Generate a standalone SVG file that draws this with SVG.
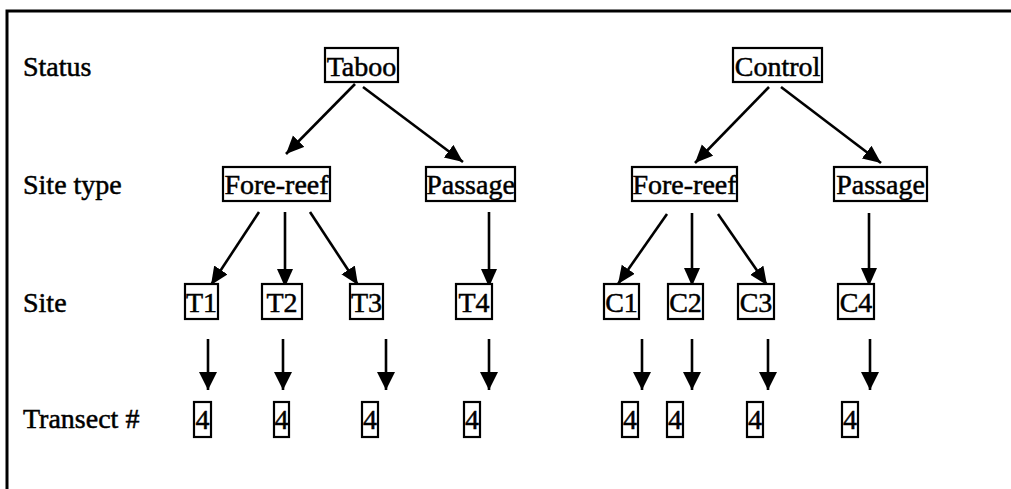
<svg xmlns="http://www.w3.org/2000/svg" width="1011" height="489" viewBox="0 0 1011 489">
<style>
text{font-family:"Liberation Serif","Times New Roman",serif;font-size:28px;fill:#000;stroke:#000;stroke-width:0.5}
.lbl{text-anchor:start}
.n text{text-anchor:middle}
.n rect{fill:#fff;stroke:#000;stroke-width:2.2}
.c line{stroke:#000;stroke-width:2.6}
.a{marker-end:url(#ah)}
.b{marker-end:url(#ahb)}
</style>
<defs>
<marker id="ah" markerUnits="userSpaceOnUse" markerWidth="19" markerHeight="17" refX="18" refY="8" orient="auto"><path d="M0,0 L18,8 L0,16 z" fill="#000"/></marker>
<marker id="ahb" markerUnits="userSpaceOnUse" markerWidth="19" markerHeight="20" refX="18" refY="9" orient="auto"><path d="M0,0 L18,9 L0,18 z" fill="#000"/></marker>
</defs>
<rect width="1011" height="489" fill="#fff"/>
<path d="M7,489 V11 H1011" fill="none" stroke="#000" stroke-width="3"/>
<g id="labels">
<text class="lbl" x="23" y="76">Status</text>
<text class="lbl" x="23" y="194">Site type</text>
<text class="lbl" x="23" y="312">Site</text>
<text class="lbl" x="23" y="428">Transect #</text>
</g>
<g id="connectors" class="c">
<line class="a" x1="355" y1="84" x2="286" y2="154"/>
<line class="a" x1="363" y1="87" x2="463" y2="162"/>
<line class="a" x1="769" y1="87" x2="695" y2="163"/>
<line class="a" x1="781" y1="87" x2="881" y2="163"/>
<line class="a" x1="259" y1="212" x2="211" y2="285"/>
<line class="a" x1="285" y1="212" x2="285" y2="287"/>
<line class="a" x1="310" y1="212" x2="358" y2="285"/>
<line class="a" x1="489" y1="212" x2="489" y2="287"/>
<line class="a" x1="667" y1="214" x2="618" y2="284"/>
<line class="a" x1="692" y1="213" x2="692" y2="286"/>
<line class="a" x1="718" y1="214" x2="767" y2="285"/>
<line class="a" x1="869" y1="213" x2="869" y2="286"/>
<line class="b" x1="208" y1="339" x2="208" y2="390"/>
<line class="b" x1="283" y1="339" x2="283" y2="390"/>
<line class="b" x1="386" y1="339" x2="386" y2="390"/>
<line class="b" x1="489" y1="339" x2="489" y2="390"/>
<line class="b" x1="642" y1="339" x2="642" y2="390"/>
<line class="b" x1="692" y1="339" x2="692" y2="390"/>
<line class="b" x1="768" y1="339" x2="768" y2="390"/>
<line class="b" x1="870" y1="339" x2="870" y2="390"/>
</g>
<g id="taboo" class="n"><rect x="325" y="48" width="73" height="34"/><text x="361.5" y="76">Taboo</text></g>
<g id="control" class="n"><rect x="733" y="48" width="89" height="34"/><text x="777.5" y="76">Control</text></g>
<g id="t-forereef" class="n"><rect x="223" y="167" width="107" height="34"/><text x="276.5" y="194">Fore-reef</text></g>
<g id="t-passage" class="n"><rect x="426" y="167" width="89" height="34"/><text x="470.5" y="194">Passage</text></g>
<g id="c-forereef" class="n"><rect x="632" y="167" width="105" height="34"/><text x="684.5" y="194">Fore-reef</text></g>
<g id="c-passage" class="n"><rect x="834" y="167" width="93" height="34"/><text x="880.5" y="194">Passage</text></g>
<g id="T1" class="n"><rect x="185" y="284" width="33" height="35"/><text x="201.5" y="312">T1</text></g>
<g id="T2" class="n"><rect x="262" y="284" width="40" height="35"/><text x="282" y="312">T2</text></g>
<g id="T3" class="n"><rect x="350" y="284" width="33" height="35"/><text x="366.5" y="312">T3</text></g>
<g id="T4" class="n"><rect x="456" y="284" width="36" height="35"/><text x="474" y="312">T4</text></g>
<g id="C1" class="n"><rect x="604" y="284" width="35" height="35"/><text x="621.5" y="312">C1</text></g>
<g id="C2" class="n"><rect x="668" y="284" width="35" height="35"/><text x="685.5" y="312">C2</text></g>
<g id="C3" class="n"><rect x="738" y="284" width="36" height="35"/><text x="756" y="312">C3</text></g>
<g id="C4" class="n"><rect x="838" y="284" width="36" height="35"/><text x="856" y="312">C4</text></g>
<g id="nT1" class="n"><rect x="194" y="402" width="17" height="35"/><text x="202.5" y="429">4</text></g>
<g id="nT2" class="n"><rect x="274" y="402" width="15" height="35"/><text x="281.5" y="429">4</text></g>
<g id="nT3" class="n"><rect x="362" y="402" width="16" height="35"/><text x="370" y="429">4</text></g>
<g id="nT4" class="n"><rect x="464" y="402" width="16" height="35"/><text x="472" y="429">4</text></g>
<g id="nC1" class="n"><rect x="622" y="402" width="16" height="35"/><text x="630" y="429">4</text></g>
<g id="nC2" class="n"><rect x="667" y="402" width="16" height="35"/><text x="675" y="429">4</text></g>
<g id="nC3" class="n"><rect x="747" y="402" width="16" height="35"/><text x="755" y="429">4</text></g>
<g id="nC4" class="n"><rect x="842" y="402" width="16" height="35"/><text x="850" y="429">4</text></g>
</svg>
